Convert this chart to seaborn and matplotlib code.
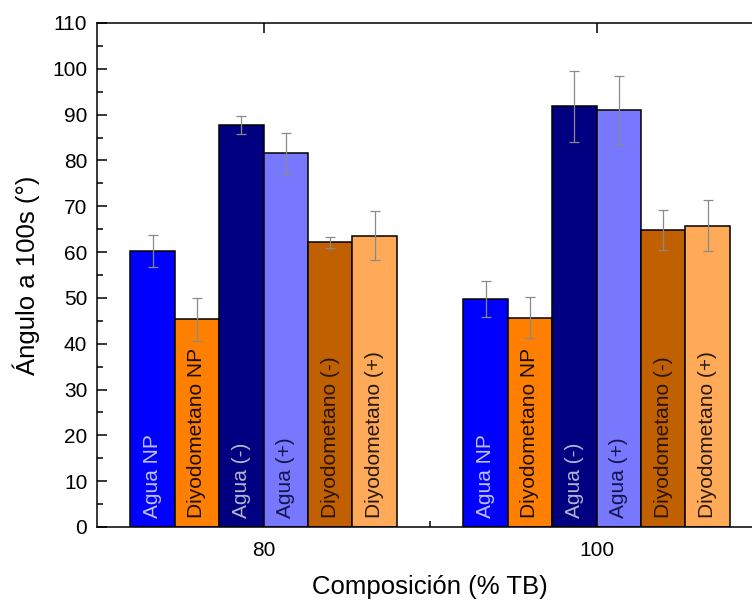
import numpy as np
import pandas as pd
import matplotlib
matplotlib.use("Agg")
import matplotlib.pyplot as plt
import seaborn as sns
from matplotlib.ticker import MultipleLocator, FixedLocator

# Composiciones (% TB) y series medidas
composiciones = ["80", "100"]
series = ["Agua NP", "Diyodometano NP", "Agua (-)", "Agua (+)",
          "Diyodometano (-)", "Diyodometano (+)"]

# Ángulo de contacto a 100 s (°) para cada serie, en el orden de composiciones
agua_np = [60.3, 49.7]
diyodometano_np = [45.3, 45.7]
agua_neg = [87.8, 91.8]
agua_pos = [81.6, 91.0]
diyodometano_neg = [62.1, 64.8]
diyodometano_pos = [63.6, 65.8]

# Desviaciones
err_agua_np = [3.5, 3.9]
err_diyodometano_np = [4.6, 4.5]
err_agua_neg = [2.0, 7.8]
err_agua_pos = [4.5, 7.5]
err_diyodometano_neg = [1.3, 4.3]
err_diyodometano_pos = [5.3, 5.6]

valores = [agua_np, diyodometano_np, agua_neg, agua_pos, diyodometano_neg, diyodometano_pos]
errores = [err_agua_np, err_diyodometano_np, err_agua_neg, err_agua_pos,
           err_diyodometano_neg, err_diyodometano_pos]

colores = ["#0000FF", "#FF8000", "#000080", "#7878FF", "#C06000", "#FFAA58"]
colores_texto = ["#C0C0FF", "#1A0C00", "#B4B4D2", "#14144E", "#2A1400", "#2A1A0A"]

df = pd.DataFrame(
    [(c, s, v) for s, vals in zip(series, valores) for c, v in zip(composiciones, vals)],
    columns=["Composición", "Serie", "Ángulo"],
)

sns.set_style("ticks")
plt.rcParams["font.family"] = ["Liberation Sans", "DejaVu Sans"]
plt.rcParams["axes.linewidth"] = 1.1
plt.rcParams["text.color"] = "black"
plt.rcParams["axes.labelcolor"] = "black"
plt.rcParams["xtick.color"] = "black"
plt.rcParams["ytick.color"] = "black"

fig = plt.figure(figsize=(7.52, 6.02), dpi=100)
ax = fig.add_axes([97 / 752, 75 / 602, 666 / 752, 504 / 602])

sns.barplot(
    data=df, x="Composición", y="Ángulo", hue="Serie",
    order=composiciones, hue_order=series, palette=colores,
    saturation=1, errorbar=None, width=0.8, edgecolor="black",
    linewidth=1.1, legend=False, ax=ax,
)

for cont, vals, errs, tcol, nombre in zip(ax.containers, valores, errores, colores_texto, series):
    for bar, v, e in zip(cont, vals, errs):
        xc = bar.get_x() + bar.get_width() / 2
        ax.errorbar(xc, v, yerr=e, fmt="none", ecolor="#8A8A8A",
                    elinewidth=0.9, capsize=3.4, capthick=0.9, zorder=4)
        ax.text(xc, 2, nombre, rotation=90, ha="center", va="bottom",
                fontsize=15, color=tcol, zorder=5)

ax.set_ylim(0, 110)
ax.set_xlim(-0.5, 1.5)
ax.yaxis.set_major_locator(MultipleLocator(10))
ax.yaxis.set_minor_locator(MultipleLocator(5))
ax.xaxis.set_minor_locator(FixedLocator([0.5]))

ax.tick_params(axis="y", which="major", direction="in", length=7.5, width=1.1,
               labelsize=15, pad=7, left=True, right=False,
               color="black", labelcolor="black")
ax.tick_params(axis="y", which="minor", direction="in", length=4, width=1.1,
               left=True, right=False, color="black")
ax.tick_params(axis="x", which="major", direction="in", length=7.5, width=1.1,
               labelsize=15, pad=10, top=True, bottom=False, labelbottom=True,
               color="black", labelcolor="black")
ax.tick_params(axis="x", which="minor", direction="in", length=4, width=1.1,
               top=False, bottom=True, color="black")

for lado in ["left", "bottom", "top", "right"]:
    ax.spines[lado].set_color("black")
    ax.spines[lado].set_linewidth(1.1)

ax.set_xlabel("Composición (% TB)", fontsize=18.5, labelpad=11, color="black")
ax.set_ylabel("Ángulo a 100s (°)", fontsize=18.5, labelpad=9, color="black")

fig.savefig("out.png", dpi=100)
